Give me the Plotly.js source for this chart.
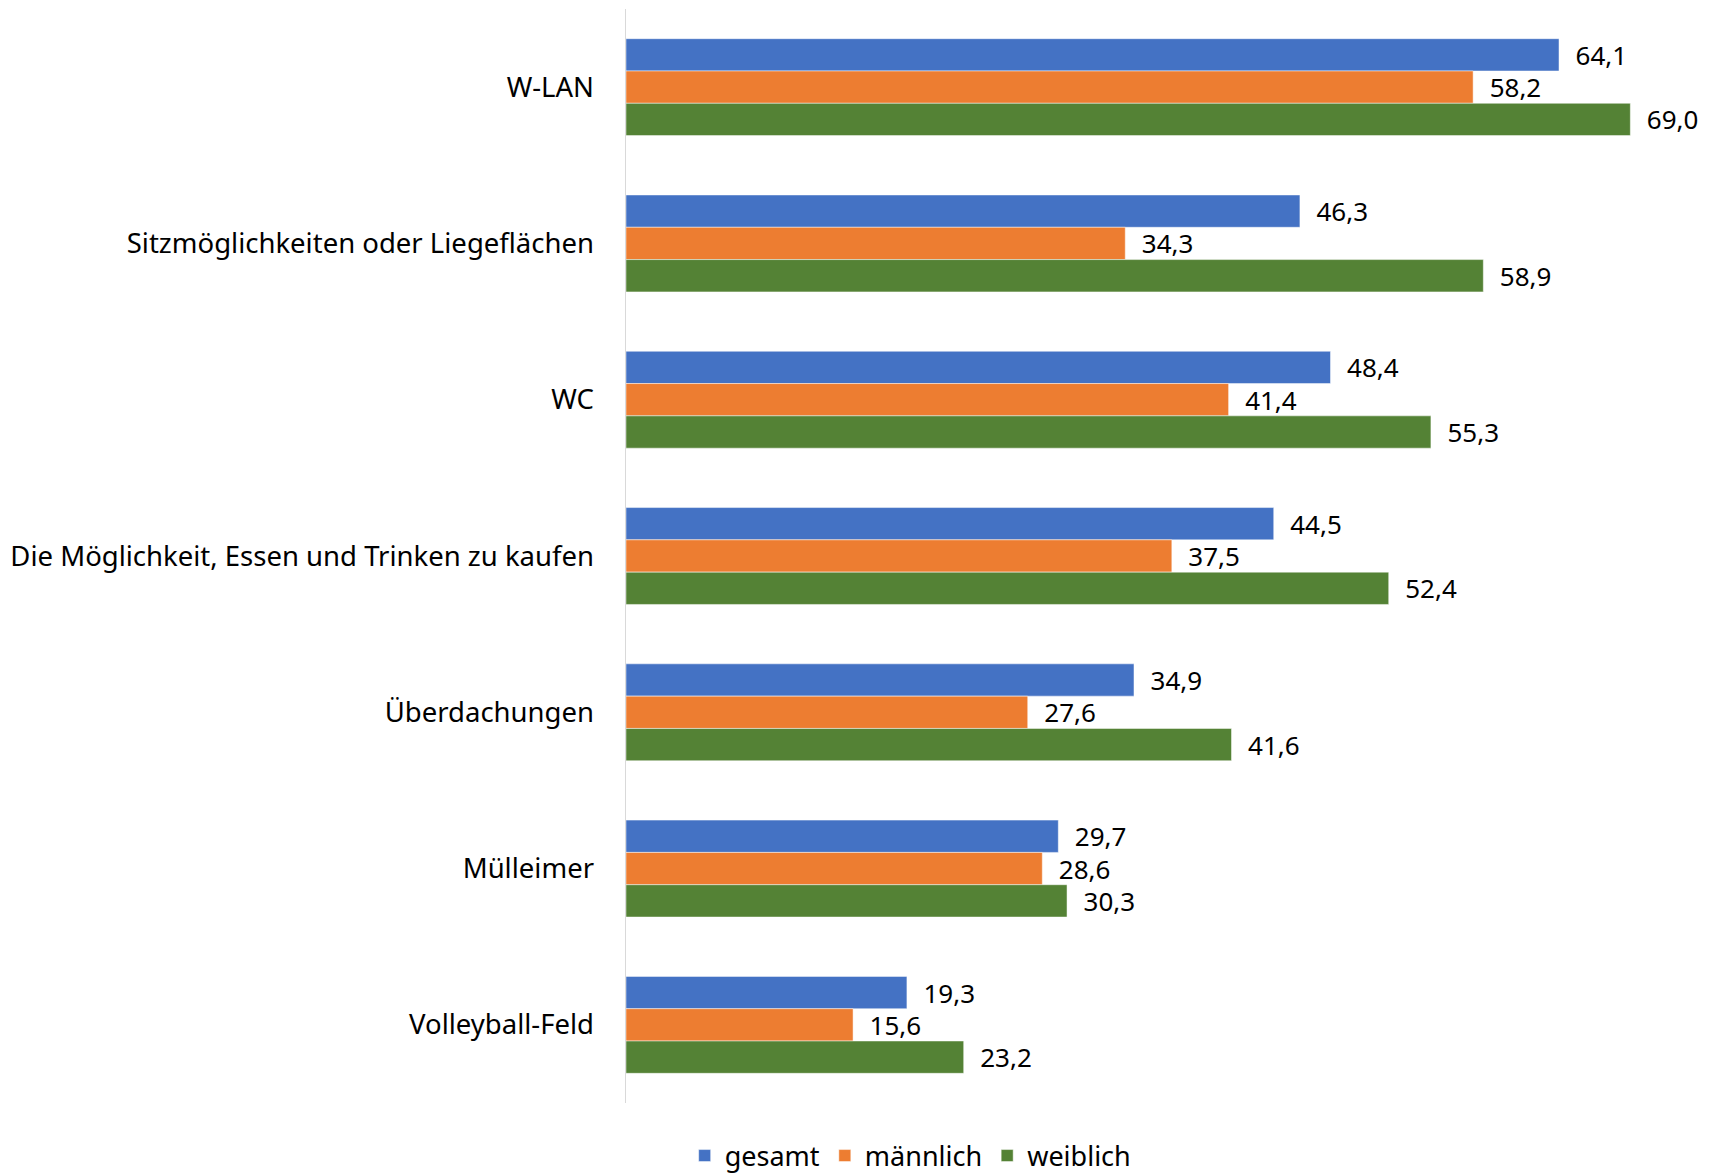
<!DOCTYPE html>
<html>
<head>
<meta charset="utf-8">
<script src="https://cdn.plot.ly/plotly-3.0.1.min.js"></script>
<style>html,body{margin:0;padding:0;background:#fff;}#chart{width:1715px;height:1176px;}</style>
</head>
<body>
<div id="chart"></div>
<script>
const categories = [
  "W-LAN",
  "Sitzmöglichkeiten oder Liegeflächen",
  "WC",
  "Die Möglichkeit, Essen und Trinken zu kaufen",
  "Überdachungen",
  "Mülleimer",
  "Volleyball-Feld"
];
const seriesNames = ["gesamt", "männlich", "weiblich"];
const gesamt   = [64.1, 46.3, 48.4, 44.5, 34.9, 29.7, 19.3];
const maennlich = [58.2, 34.3, 41.4, 37.5, 27.6, 28.6, 15.6];
const weiblich = [69.0, 58.9, 55.3, 52.4, 41.6, 30.3, 23.2];
const colors = ["#4472C4", "#ED7D31", "#548235"];

const FONT = "Noto Sans, Open Sans, sans-serif";
const values = [gesamt, maennlich, weiblich];
const traces = values.map((v, i) => ({
  type: "bar",
  orientation: "h",
  name: seriesNames[i],
  y: categories,
  x: v,
  marker: {color: colors[i], line: {color: "rgba(255,255,255,0.6)", width: 0.8}},
  texttemplate: "  %{x:.1f}",
  textposition: "outside",
  constraintext: "none",
  cliponaxis: false,
  textfont: {family: FONT, size: 26, color: "#000"},
  hoverinfo: "none"
}));

const layout = {
  width: 1715,
  height: 1176,
  separators: ",.",
  paper_bgcolor: "#fff",
  plot_bgcolor: "#fff",
  margin: {l: 626, r: 41, t: 9, b: 73},
  barmode: "group",
  bargap: 0.38,
  bargroupgap: 0,
  font: {family: FONT, size: 27, color: "#000"},
  showlegend: true,
  legend: {
    orientation: "h",
    xref: "container",
    yref: "container",
    x: 0.531,
    xanchor: "center",
    y: 0.017,
    yanchor: "middle",
    font: {family: FONT, size: 27, color: "#000"},
    traceorder: "normal"
  },
  xaxis: {
    range: [0, 72],
    fixedrange: true,
    showgrid: false,
    zeroline: false,
    showline: false,
    showticklabels: false,
    ticks: ""
  },
  yaxis: {
    type: "category",
    autorange: "reversed",
    showgrid: false,
    zeroline: false,
    showline: true,
    linecolor: "#d9d9d9",
    linewidth: 1.5,
    ticks: "",
    ticklabelstandoff: 25,
    tickfont: {family: FONT, size: 27.5, color: "#000"}
  }
};

Plotly.newPlot("chart", traces, layout, {staticPlot: true, displayModeBar: false});
</script>
</body>
</html>
